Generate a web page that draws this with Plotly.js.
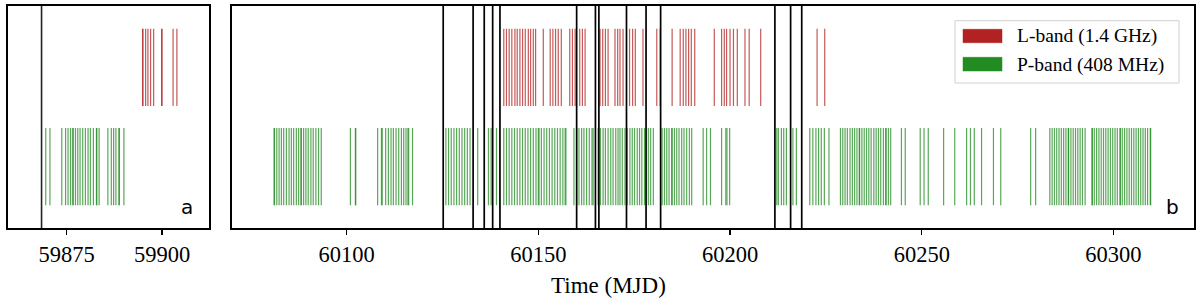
<!DOCTYPE html>
<html>
<head>
<meta charset="utf-8">
<script src="https://cdn.plot.ly/plotly-3.0.1.min.js"></script>
<style>
  html, body { margin: 0; padding: 0; background: #ffffff; }
  #chart { width: 1200px; height: 305px; }
</style>
</head>
<body>
<div id="chart"></div>
<script>
// ---------------- data (MJD of each observation) ----------------
// Panel a
const lbandA = [59894.9, 59895.0, 59895.7, 59896.3, 59897.0, 59897.8, 59899.9, 59900.0, 59902.9, 59903.9];
const pbandA = [59869.5, 59870.6, 59873.7, 59874.7, 59875.35, 59876.0, 59876.6, 59876.7, 59877.3, 59877.9,
  59878.5, 59879.2, 59879.9, 59880.6, 59881.2, 59882.0, 59882.8, 59882.9, 59883.5, 59885.8, 59886.7,
  59887.3, 59887.9, 59888.7, 59888.8, 59890.0];
const markersA = [59868.4];

// Panel b
const lbandB = [60141.0, 60141.7, 60142.4, 60143.1, 60143.9, 60144.5, 60145.2, 60145.9, 60146.6, 60147.4,
  60148.0, 60148.7, 60149.3, 60151.3, 60153.1, 60153.8, 60154.5, 60155.2, 60156.0, 60158.2, 60158.9,
  60159.6, 60160.8, 60161.5, 60162.2, 60166.1, 60166.8, 60167.5, 60168.2, 60170.0, 60170.7, 60171.3,
  60172.1, 60173.8, 60174.6, 60175.3, 60177.3, 60180.9, 60181.8, 60184.9, 60187.0, 60187.8, 60188.5,
  60189.2, 60189.9, 60190.8, 60195.9, 60197.8, 60198.5, 60199.1, 60200.0, 60200.9, 60201.9, 60203.9,
  60205.0, 60208.0, 60222.7, 60224.7];
const pbandB = [
  60081.1, 60081.2, 60081.8, 60082.4, 60083.0, 60083.6, 60084.3, 60085.0, 60085.6, 60086.2, 60086.9,
  60087.5, 60088.1, 60088.2, 60088.8, 60089.4, 60090.0, 60090.7, 60091.3, 60092.0, 60092.7, 60093.4,
  60101.0, 60102.3, 60102.4,
  60108.1, 60109.1, 60109.3, 60110.2, 60110.9, 60111.6, 60112.2, 60112.9, 60113.6, 60114.3, 60114.9,
  60115.5, 60116.0, 60116.2, 60117.2,
  60125.9, 60126.6, 60127.3, 60128.0, 60128.7, 60129.4, 60130.1, 60130.8, 60131.5, 60132.2, 60134.2,
  60137.0, 60137.7, 60139.1,
  60141.0, 60141.7, 60142.4, 60143.1, 60143.8, 60144.5, 60145.2, 60145.9, 60146.6, 60147.3, 60148.0,
  60148.7, 60149.4, 60150.0, 60150.2, 60150.8, 60151.5, 60152.2, 60152.9, 60153.6, 60154.3, 60155.0,
  60155.7, 60156.4, 60157.0, 60157.2,
  60159.3, 60160.0, 60160.6, 60161.3, 60161.9, 60162.6, 60163.3, 60164.0, 60164.3,
  60165.6, 60166.2, 60166.9, 60167.5, 60168.2, 60168.9, 60169.5, 60170.2, 60170.8, 60171.3, 60171.9,
  60172.6, 60173.2, 60173.9, 60174.5, 60175.1, 60175.8, 60176.4, 60177.0, 60177.7, 60178.7, 60179.3,
  60180.0,
  60182.3, 60182.9, 60183.5, 60184.1, 60184.8, 60184.9, 60185.5, 60186.1, 60186.7, 60187.4, 60188.0,
  60188.7, 60189.4, 60190.0,
  60193.0, 60193.9, 60194.9,
  60197.8, 60198.9, 60199.2, 60199.9,
  60212.2, 60212.6, 60213.4, 60214.0, 60214.7, 60216.4, 60217.3,
  60220.8, 60221.6, 60222.4, 60223.1, 60223.8, 60224.6, 60225.8,
  60228.8, 60229.4, 60230.0, 60230.6, 60231.3, 60231.9, 60232.5, 60233.1, 60233.7, 60233.8, 60234.4,
  60235.0, 60235.6, 60236.2, 60236.8, 60237.5, 60238.1, 60238.7, 60239.3, 60240.0, 60240.6, 60240.7,
  60241.3, 60241.9,
  60244.7, 60245.7,
  60249.6, 60250.6, 60251.7,
  60255.7, 60258.6,
  60261.7, 60262.7, 60263.7,
  60265.6, 60268.7, 60270.6,
  60278.4, 60279.7,
  60283.4, 60284.0, 60284.6, 60285.2, 60285.8, 60286.4, 60287.0, 60287.6, 60288.2, 60288.3, 60288.9,
  60289.5, 60290.1, 60290.7, 60291.3, 60291.9, 60292.6,
  60294.4, 60294.5, 60295.0, 60295.6, 60296.2, 60296.8, 60297.4, 60298.0, 60298.6, 60299.2, 60299.8,
  60300.4, 60301.0, 60301.7, 60301.8, 60302.3, 60302.9, 60303.5, 60304.1, 60304.7, 60305.3, 60305.9,
  60306.5, 60307.1, 60307.7, 60308.3, 60308.9, 60309.6, 60309.7];
const markersB = [60125.2, 60133.0, 60135.9, 60138.1, 60140.0, 60160.0, 60164.9, 60165.8, 60173.0,
  60178.1, 60181.9, 60211.7, 60215.8, 60218.7];

const bandNames = ["L-band (1.4 GHz)", "P-band (408 MHz)"];
const tickValsA = [59875, 59900];
const tickValsB = [60100, 60150, 60200, 60250, 60300];
const xTitle = "Time (MJD)";

// ---------------- styling ----------------
const RED = "rgb(178,34,34)";
const GREEN = "rgb(34,139,34)";
const RED_A = "rgba(178,34,34,0.75)";
const GREEN_A = "rgba(34,139,34,0.75)";
const ROW = { L: 1, P: 0 };
const HALF = 0.39;
const SERIF = "Liberation Serif, Times New Roman, serif";
const W = 1200, H = 305;

function eventTrace(times, offset, color, xa, ya) {
  const x = [], y = [];
  times.forEach(t => { x.push(t, t, null); y.push(offset - HALF, offset + HALF, null); });
  return { type: "scatter", mode: "lines", x, y, xaxis: xa, yaxis: ya,
    line: { color, width: 1.2 }, hoverinfo: "skip", showlegend: false };
}

const traces = [
  eventTrace(pbandA, ROW.P, GREEN_A, "x", "y"),
  eventTrace(lbandA, ROW.L, RED_A, "x", "y"),
  eventTrace(pbandB, ROW.P, GREEN_A, "x2", "y2"),
  eventTrace(lbandB, ROW.L, RED_A, "x2", "y2"),
];

const shapes = [];
markersA.forEach(m => shapes.push({ type: "line", xref: "x", yref: "y domain", x0: m, x1: m, y0: 0, y1: 1,
  line: { color: "#222", width: 1.6 }, layer: "above" }));
markersB.forEach(m => shapes.push({ type: "line", xref: "x2", yref: "y2 domain", x0: m, x1: m, y0: 0, y1: 1,
  line: { color: "#000", width: 1.7 }, layer: "above" }));

// legend (drawn manually as matplotlib-style patches)
const px = v => v / W, py = v => 1 - v / H;
shapes.push({ type: "rect", xref: "paper", yref: "paper", x0: px(955), x1: px(1179), y0: py(83), y1: py(20.7),
  line: { color: "#d0d0d0", width: 1 }, fillcolor: "rgba(255,255,255,0.85)", layer: "above" });
shapes.push({ type: "rect", xref: "paper", yref: "paper", x0: px(963), x1: px(1002), y0: py(42.7), y1: py(29.3),
  line: { color: RED, width: 0.5 }, fillcolor: RED, layer: "above" });
shapes.push({ type: "rect", xref: "paper", yref: "paper", x0: px(963), x1: px(1002), y0: py(71), y1: py(57.3),
  line: { color: GREEN, width: 0.5 }, fillcolor: GREEN, layer: "above" });

const annotations = [
  { text: bandNames[0], xref: "paper", yref: "paper", x: px(1015), y: py(36.5), xanchor: "left", yanchor: "middle",
    showarrow: false, font: { family: SERIF, size: 19.5, color: "#000" } },
  { text: bandNames[1], xref: "paper", yref: "paper", x: px(1015), y: py(64.5), xanchor: "left", yanchor: "middle",
    showarrow: false, font: { family: SERIF, size: 19.5, color: "#000" } },
  { text: "a", xref: "x domain", yref: "y domain", x: 1, y: 0, xanchor: "right", yanchor: "bottom",
    xshift: -14, yshift: 7, showarrow: false, font: { family: "DejaVu Sans, sans-serif", size: 20, color: "#000" } },
  { text: "b", xref: "x2 domain", yref: "y2 domain", x: 1, y: 0, xanchor: "right", yanchor: "bottom",
    xshift: -13, yshift: 7, showarrow: false, font: { family: "DejaVu Sans, sans-serif", size: 20, color: "#000" } },
  { text: xTitle, xref: "paper", yref: "paper", x: px(608), y: py(285), xanchor: "center", yanchor: "middle",
    showarrow: false, font: { family: SERIF, size: 23, color: "#000" } },
];

const yDom = [1 - 228 / H, 1 - 6 / H];
const xCommon = {
  ticks: "outside", ticklen: 4.5, tickwidth: 1.3, tickcolor: "#000",
  showline: true, mirror: true, linewidth: 2, linecolor: "#000",
  showgrid: false, zeroline: false, fixedrange: true,
  tickfont: { family: SERIF, size: 22.5, color: "#000" }, tickmode: "array",
};
const yCommon = {
  range: [-0.62, 1.62], domain: yDom, showticklabels: false, ticks: "",
  showline: true, mirror: true, linewidth: 2, linecolor: "#000",
  showgrid: false, zeroline: false, fixedrange: true,
};

const layout = {
  width: W, height: H,
  margin: { l: 0, r: 0, t: 0, b: 0, pad: 0 },
  paper_bgcolor: "#fff", plot_bgcolor: "#fff",
  showlegend: false,
  xaxis: Object.assign({}, xCommon, { domain: [8 / W, 209.3 / W], range: [59859.6, 59912.4],
    tickvals: tickValsA, ticktext: tickValsA.map(String), anchor: "y" }),
  yaxis: Object.assign({}, yCommon, { anchor: "x" }),
  xaxis2: Object.assign({}, xCommon, { domain: [232.3 / W, 1194 / W], range: [60070.2, 60321.0],
    tickvals: tickValsB, ticktext: tickValsB.map(String), anchor: "y2" }),
  yaxis2: Object.assign({}, yCommon, { anchor: "x2" }),
  shapes, annotations,
};

Plotly.newPlot("chart", traces, layout, { staticPlot: true, displayModeBar: false });
</script>
</body>
</html>
